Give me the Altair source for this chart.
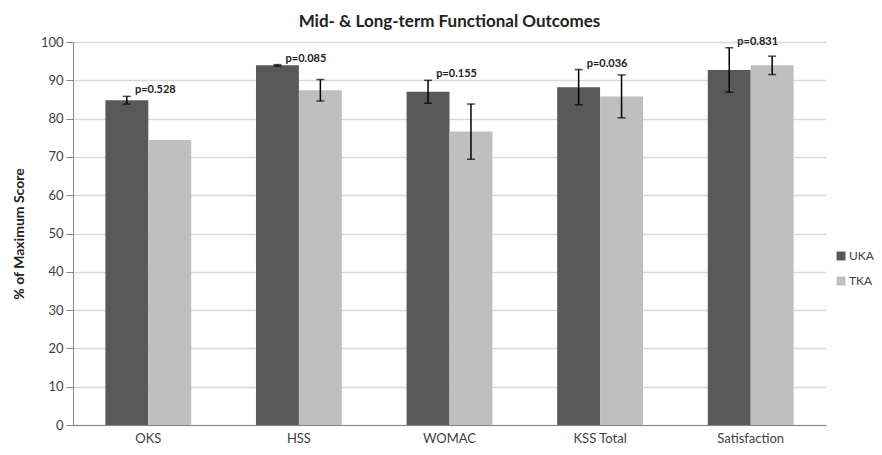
import altair as alt
import pandas as pd

categories = ["OKS", "HSS", "WOMAC", "KSS Total", "Satisfaction"]
series_names = ["UKA", "TKA"]
uka = [84.8, 93.9, 87.0, 88.2, 92.7]
uka_err = [1.0, 0.2, 3.0, 4.6, 5.8]
tka = [74.4, 87.4, 76.6, 85.8, 93.9]
tka_err = [None, 2.8, 7.2, 5.6, 2.4]
p_labels = ["p=0.528", "p=0.085", "p=0.155", "p=0.036", "p=0.831"]

rows = []
for i, c in enumerate(categories):
    rows.append(dict(cat=c, series="UKA", value=uka[i], err=uka_err[i]))
    rows.append(dict(cat=c, series="TKA", value=tka[i], err=tka_err[i]))
df = pd.DataFrame(rows)
err_df = df.dropna(subset=["err"]).copy()
err_df["lo"] = err_df["value"] - err_df["err"]
err_df["hi"] = err_df["value"] + err_df["err"]

lab_df = pd.DataFrame({
    "cat": categories,
    "label": p_labels,
    "top": [u + e for u, e in zip(uka, uka_err)],
})

FONT = "Lato, Open Sans, sans-serif"

xscale = alt.Scale(domain=categories, paddingInner=0.43, paddingOuter=0.215)
xax = alt.Axis(title=None, labelAngle=0, labelFontSize=13, labelColor="#404040",
               labelPadding=7, domainColor="#868686", tickColor="#868686",
               ticks=False, grid=False, labelFont=FONT)
yscale = alt.Scale(domain=[0, 100], nice=False)
yax = alt.Axis(title="% of Maximum Score", titleFontSize=14, titleFont=FONT,
               titleFontWeight="bold", titleColor="#222222", titlePadding=14,
               values=list(range(0, 101, 10)), labelOverlap=False,
               labelFontSize=13, labelFont=FONT,
               labelColor="#404040", gridColor="#d9d9d9", gridWidth=1.5,
               domainColor="#868686", tickColor="#868686", tickSize=7, labelPadding=3)

xoff = alt.XOffset("series:N", sort=series_names, scale=alt.Scale(paddingInner=0, paddingOuter=0))
X = alt.X("cat:N", sort=categories, scale=xscale, axis=xax)

bars = alt.Chart(df).mark_bar().encode(
    x=X,
    xOffset=xoff,
    y=alt.Y("value:Q", scale=yscale, axis=yax),
    color=alt.Color("series:N", sort=series_names,
                    scale=alt.Scale(domain=series_names, range=["#595959", "#bfbfbf"]),
                    legend=alt.Legend(title=None, orient="none", legendX=762, legendY=208,
                                      symbolType="square", symbolSize=80, symbolStrokeWidth=0,
                                      labelFontSize=12, labelFont=FONT, labelColor="#404040",
                                      rowPadding=13, labelOffset=2)),
)

rules = alt.Chart(err_df).mark_rule(color="black", strokeWidth=1.5).encode(
    x=X,
    xOffset=xoff,
    y=alt.Y("lo:Q", scale=yscale, axis=yax),
    y2="hi:Q",
)
caps_hi = alt.Chart(err_df).mark_tick(color="black", thickness=1.5, size=8).encode(
    x=X,
    xOffset=xoff,
    y=alt.Y("hi:Q", scale=yscale, axis=yax),
)
caps_lo = alt.Chart(err_df).mark_tick(color="black", thickness=1.5, size=8).encode(
    x=X,
    xOffset=xoff,
    y=alt.Y("lo:Q", scale=yscale, axis=yax),
)
labels = alt.Chart(lab_df).mark_text(fontSize=11, fontWeight="bold", font=FONT,
                                     color="#222222", baseline="middle", dy=-6, dx=7).encode(
    x=X,
    y=alt.Y("top:Q", scale=yscale, axis=yax),
    text="label:N",
)

chart = alt.layer(bars, rules, caps_hi, caps_lo, labels).properties(
    width=753, height=383,
    title=alt.TitleParams("Mid- & Long-term Functional Outcomes", fontSize=17, font=FONT,
                          fontWeight="bold", color="#222222", anchor="middle", offset=5),
    autosize=alt.AutoSizeParams(type="none"),
    padding={"left": 65, "top": 34, "right": 48, "bottom": 22},
).configure_view(stroke=None)

chart.save("out.html", embed_options={"renderer": "svg", "actions": False})
